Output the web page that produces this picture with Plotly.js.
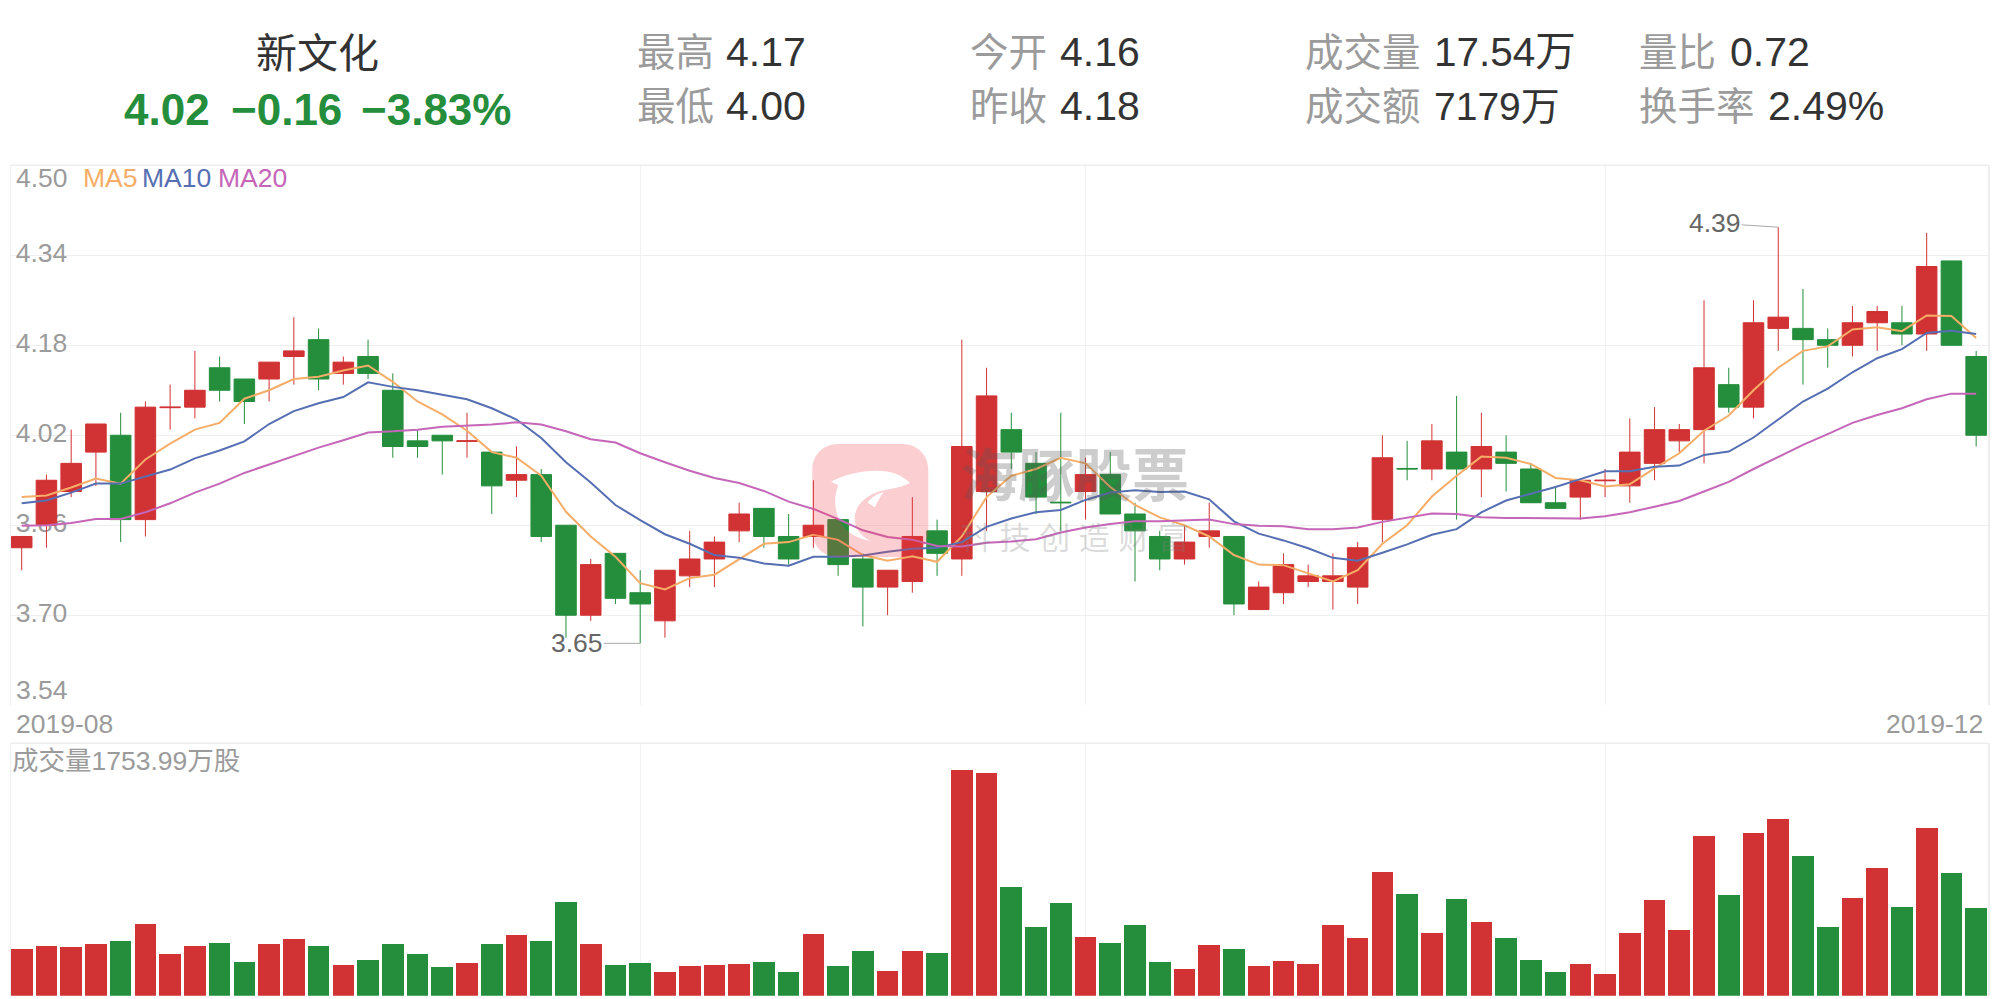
<!DOCTYPE html>
<html><head><meta charset="utf-8">
<script src="https://cdn.plot.ly/plotly-3.0.1.min.js"></script>
<style>html,body{margin:0;padding:0;background:#fff}#c{width:2001px;height:999px}</style>
</head><body><div id="c"></div>
<script>
const opens=[3.82,3.86,3.92,3.99,4.02,3.87,4.069,4.07,4.14,4.12,4.12,4.16,4.19,4.13,4.16,4.10,4.01,4.02,4.009,3.99,3.94,3.95,3.86,3.70,3.81,3.74,3.69,3.77,3.80,3.85,3.89,3.84,3.84,3.87,3.80,3.75,3.76,3.85,3.80,3.92,4.03,3.97,3.901,3.92,3.95,3.88,3.84,3.80,3.84,3.84,3.71,3.74,3.76,3.76,3.75,3.87,3.961,3.96,3.99,3.96,3.99,3.96,3.90,3.91,3.939,3.93,3.97,4.01,4.03,4.11,4.07,4.21,4.21,4.19,4.18,4.22,4.22,4.20,4.33,4.16];
const highs=[3.84,3.95,4.03,4.04,4.06,4.08,4.11,4.17,4.16,4.12,4.15,4.23,4.21,4.16,4.19,4.13,4.03,4.02,4.06,3.99,4.00,3.96,3.86,3.80,3.81,3.78,3.78,3.85,3.84,3.90,3.89,3.88,3.94,3.87,3.81,3.78,3.91,3.87,4.19,4.14,4.06,3.99,4.06,3.98,3.99,3.90,3.85,3.86,3.90,3.84,3.76,3.81,3.79,3.81,3.83,4.02,4.01,4.04,4.09,4.06,4.02,3.97,3.93,3.94,3.96,4.05,4.07,4.04,4.26,4.14,4.26,4.39,4.28,4.21,4.25,4.25,4.25,4.38,4.33,4.17];
const lows=[3.78,3.82,3.91,3.93,3.83,3.84,4.03,4.05,4.08,4.04,4.08,4.11,4.10,4.11,4.12,3.98,3.98,3.95,3.98,3.88,3.91,3.83,3.66,3.69,3.72,3.65,3.66,3.75,3.75,3.83,3.82,3.79,3.82,3.77,3.68,3.70,3.74,3.77,3.77,3.85,3.96,3.88,3.85,3.87,3.88,3.76,3.78,3.79,3.82,3.70,3.71,3.72,3.75,3.71,3.72,3.83,3.94,3.94,3.87,3.91,3.92,3.90,3.89,3.87,3.91,3.90,3.94,3.99,3.97,4.06,4.05,4.17,4.11,4.14,4.16,4.17,4.18,4.17,4.18,4.00];
const closes=[3.84,3.94,3.97,4.04,3.87,4.07,4.07,4.10,4.10,4.08,4.15,4.17,4.12,4.15,4.13,4.00,4.00,4.01,4.01,3.93,3.95,3.84,3.70,3.79,3.73,3.72,3.78,3.80,3.83,3.88,3.84,3.80,3.86,3.79,3.75,3.78,3.84,3.81,4.00,4.09,3.99,3.91,3.90,3.95,3.88,3.85,3.80,3.83,3.85,3.72,3.75,3.79,3.77,3.77,3.82,3.98,3.96,4.01,3.96,4.00,3.97,3.90,3.89,3.94,3.94,3.99,4.03,4.03,4.14,4.07,4.22,4.23,4.19,4.18,4.22,4.24,4.20,4.32,4.18,4.02];
const ma5=[3.91,3.913,3.927,3.943,3.934,3.977,4.005,4.03,4.042,4.085,4.10,4.12,4.124,4.135,4.144,4.115,4.08,4.057,4.028,3.99,3.98,3.948,3.884,3.84,3.804,3.757,3.746,3.766,3.772,3.80,3.827,3.83,3.843,3.834,3.807,3.797,3.805,3.795,3.84,3.91,3.948,3.96,3.98,3.97,3.928,3.896,3.874,3.86,3.84,3.807,3.79,3.789,3.774,3.76,3.78,3.827,3.86,3.911,3.948,3.982,3.98,3.969,3.944,3.94,3.929,3.933,3.961,3.988,4.028,4.055,4.10,4.14,4.17,4.178,4.208,4.212,4.205,4.233,4.232,4.193];
const ma10=[3.899,3.904,3.918,3.934,3.934,3.946,3.959,3.979,3.993,4.009,4.04,4.063,4.077,4.088,4.114,4.106,4.10,4.092,4.084,4.068,4.048,4.015,3.972,3.936,3.896,3.869,3.844,3.827,3.807,3.802,3.792,3.788,3.804,3.804,3.806,3.813,3.818,3.82,3.83,3.857,3.872,3.883,3.887,3.905,3.918,3.922,3.919,3.92,3.906,3.867,3.845,3.833,3.819,3.802,3.797,3.811,3.826,3.843,3.853,3.883,3.904,3.916,3.928,3.942,3.956,3.956,3.964,3.966,3.985,3.991,4.016,4.048,4.08,4.103,4.132,4.157,4.173,4.202,4.206,4.20];
const ma20=[3.859,3.86,3.864,3.871,3.871,3.883,3.899,3.918,3.934,3.953,3.968,3.983,3.998,4.011,4.025,4.027,4.03,4.035,4.037,4.039,4.043,4.039,4.027,4.013,4.007,3.988,3.972,3.957,3.944,3.935,3.921,3.902,3.889,3.871,3.851,3.839,3.834,3.823,3.822,3.829,3.831,3.835,3.847,3.856,3.862,3.867,3.867,3.869,3.87,3.862,3.859,3.858,3.853,3.853,3.856,3.866,3.873,3.881,3.88,3.874,3.873,3.873,3.873,3.872,3.876,3.883,3.893,3.903,3.92,3.937,3.96,3.982,4.003,4.022,4.042,4.056,4.068,4.084,4.094,4.094];
const volumes=[934,994,974,1034,1094,1434,834,994,1054,674,1034,1134,994,614,714,1034,834,574,654,1034,1214,1094,1874,1034,614,654,474,594,614,634,674,474,1234,594,894,494,894,854,4515,4456,2174,1374,1854,1174,1054,1414,674,534,1014,934,594,694,634,1414,1154,2475,2034,1254,1934,1474,1154,714,474,634,434,1254,1914,1314,3195,2014,3255,3535,2795,1374,1954,2555,1774,3355,2455,1754];
const priceTicks=[4.50,4.34,4.18,4.02,3.86,3.70];
const priceTickText=['','4.34','4.18','4.02','3.86','3.70'];
const monthTicks=[25,43,64];

const RED='#d13233',GREEN='#258e3c',GREY='#9b9b9b',DARK='#333333';
const FONT='"Liberation Sans","Noto Sans CJK SC",sans-serif';
const W=2001,H=999;
const idx=opens.map((_,i)=>i);
const px=x=>x/W, py=y=>1-y/H;
const T=(text,x,y,size,color,anchor='left',extra={})=>Object.assign({text,xref:'paper',yref:'paper',x:px(x),y:py(y),xanchor:anchor,yanchor:'middle',showarrow:false,borderpad:0,font:{family:FONT,size,color}},extra);

const annotations=[
 T('新文化',317.5,54,41,DARK,'center'),
 T('<b>4.02</b>',167.3,110,44,GREEN,'center'),
 T('<b>−0.16</b>',286.3,110,44,GREEN,'center'),
 T('<b>−3.83%</b>',435.6,110,44,GREEN,'center'),
 T('最高',635.5,52,38.5,GREY), T('4.17',724.5,52,41,DARK),
 T('最低',635.5,106,38.5,GREY), T('4.00',724.5,106,41,DARK),
 T('今开',968.5,52,38.5,GREY), T('4.16',1058.5,52,41,DARK),
 T('昨收',968.5,106,38.5,GREY), T('4.18',1058.5,106,41,DARK),
 T('成交量',1303.5,52,38.5,GREY), T('17.54万',1432.5,52,40.5,DARK),
 T('成交额',1303.5,106,38.5,GREY), T('7179万',1432.5,106,39,DARK),
 T('量比',1637.5,52,38.5,GREY), T('0.72',1728.5,52,41,DARK),
 T('换手率',1637.5,106,38.5,GREY), T('2.49%',1766.5,106,41,DARK),
 T('4.50',14.5,178,26.5,GREY),
 T('3.54',14.5,690,26.5,GREY),
 T('MA5',81.5,178,26.5,'#f5ad68'),
 T('MA10',141,178,26.5,'#566fb3'),
 T('MA20',216.5,178,26.5,'#c566b8'),
 T('2019-08',15,724,26.5,GREY),
 T('2019-12',1984,724,26.5,GREY,'right'),
 T('成交量1753.99万股',11,761,26.5,GREY),
 T('<b>海豚股票</b>',1075,476,57,'rgba(90,90,90,0.3)','center'),
 T('科 技 创 造 财 富',1074,538,31,'rgba(130,130,130,0.28)','center'),
 {xref:'x',yref:'y',x:71,y:4.39,axref:'pixel',ayref:'pixel',ax:-63,ay:-4,text:'4.39',showarrow:true,arrowhead:0,arrowwidth:1,arrowcolor:'#aaaaaa',standoff:0,startstandoff:0,font:{family:FONT,size:26.5,color:'#666666'},borderpad:0},
 {xref:'x',yref:'y',x:25,y:3.65,axref:'pixel',ayref:'pixel',ax:-63,ay:0,text:'3.65',showarrow:true,arrowhead:0,arrowwidth:1,arrowcolor:'#aaaaaa',standoff:0,startstandoff:0,font:{family:FONT,size:26.5,color:'#666666'},borderpad:0}
];

const P=(x,y)=>`${(x/W).toFixed(6)},${(1-y/H).toFixed(6)}`;
const Z=(x,y)=>P(x/3+805,y/3+440);
const L=812.3,R=928.3,TP=444,B=557,C=26,K=11;
const wm=`M${P(L+C,TP)} L${P(R-C,TP)} C${P(R-K,TP)} ${P(R,TP+K)} ${P(R,TP+C)} L${P(R,B-C)} C${P(R,B-K)} ${P(R-K,B)} ${P(R-C,B)} L${P(L+C,B)} C${P(L+K,B)} ${P(L,B-K)} ${P(L,B-C)} L${P(L,TP+C)} C${P(L,TP+K)} ${P(L+K,TP)} ${P(L+C,TP)} Z `+
 `M${Z(315,128)} C${Z(290,105)} ${Z(260,92)} ${Z(215,92)} C${Z(165,92)} ${Z(115,105)} ${Z(78,125)} L${Z(100,136)} C${Z(88,165)} ${Z(85,205)} ${Z(105,245)} C${Z(125,280)} ${Z(160,296)} ${Z(197,303)} C${Z(160,285)} ${Z(145,255)} ${Z(150,225)} C${Z(155,190)} ${Z(190,160)} ${Z(240,150)} C${Z(265,145)} ${Z(295,140)} ${Z(315,128)} Z `+
 `M${Z(236,157)} C${Z(215,162)} ${Z(198,172)} ${Z(188,188)} L${Z(210,202)} C${Z(218,185)} ${Z(225,170)} ${Z(236,157)} Z`;

const shapes=[
 {type:'line',xref:'paper',yref:'paper',x0:px(11),x1:px(1988),y0:py(165.3),y1:py(165.3),line:{color:'#eeeeee',width:1.5}},
 {type:'line',xref:'paper',yref:'paper',x0:px(11),x1:px(1988),y0:py(743.3),y1:py(743.3),line:{color:'#eeeeee',width:1.5}},
 {type:'path',xref:'paper',yref:'paper',path:wm,fillcolor:'rgba(240,60,70,0.25)',line:{width:0},layer:'above'}
];

const line=(y,c,name)=>({type:'scatter',mode:'lines',x:idx,y,name,line:{color:c,width:2},hoverinfo:'skip',xaxis:'x',yaxis:'y'});
const data=[
 {type:'candlestick',x:idx,open:opens,high:highs,low:lows,close:closes,xaxis:'x',yaxis:'y',
  increasing:{line:{color:RED,width:1},fillcolor:RED},decreasing:{line:{color:GREEN,width:1},fillcolor:GREEN},hoverinfo:'skip',name:'K'},
 line(ma5,'#f5ad68','MA5'),line(ma10,'#566fb3','MA10'),line(ma20,'#c566b8','MA20'),
 {type:'bar',x:idx,y:volumes,width:0.875,xaxis:'x2',yaxis:'y2',marker:{color:opens.map((o,i)=>closes[i]>=o?RED:GREEN),line:{width:0}},hoverinfo:'skip',name:'成交量'}
];
const xr=[(11-21.7)/24.74,(1988-21.7)/24.74];
const dom=[px(11),px(1988)];
const xax={domain:dom,range:xr,type:'linear',tickmode:'array',tickvals:monthTicks,ticktext:['','',''],showgrid:true,gridcolor:'#f2f2f2',gridwidth:1,zeroline:false,showline:false,ticks:'',rangeslider:{visible:false},fixedrange:true};
const layout={
 width:W,height:H,margin:{l:0,r:0,t:0,b:0,pad:0},paper_bgcolor:'#fff',plot_bgcolor:'#fff',showlegend:false,
 font:{family:FONT},bargap:0,boxgap:0.17,boxgroupgap:0,annotations,shapes,
 xaxis:Object.assign({anchor:'y'},xax),
 xaxis2:Object.assign({anchor:'y2'},xax),
 yaxis:{domain:[py(705.2),py(165.3)],range:[3.54,4.50],tickmode:'array',tickvals:priceTicks,ticktext:priceTickText,ticklabelposition:'inside',ticklabelstandoff:7,ticklabelshift:-3,ticks:'',layer:'below traces',
  tickfont:{family:FONT,size:26.5,color:GREY},showgrid:true,gridcolor:'#efefef',gridwidth:1,zeroline:false,showline:true,mirror:true,linecolor:'#eeeeee',linewidth:1.5,fixedrange:true},
 yaxis2:{domain:[py(995.7),py(743.3)],range:[0,5049],showticklabels:false,ticks:'',showgrid:false,zeroline:false,showline:true,mirror:true,linecolor:'#eeeeee',linewidth:1.5,fixedrange:true}
};
Plotly.newPlot('c',data,layout,{staticPlot:true,displayModeBar:false});
</script></body></html>
